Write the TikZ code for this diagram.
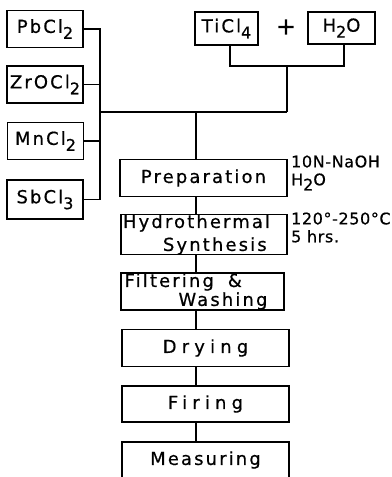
\documentclass[tikz,border=0pt]{standalone}
\usepackage{fontspec}
\setmainfont[FakeBold=0.6]{DejaVu Sans}
\newfontfamily\boxfont[LetterSpace=12,FakeBold=0.6]{DejaVu Sans}
\newfontfamily\widefont[LetterSpace=29,FakeBold=0.6]{DejaVu Sans}
\newfontfamily\notefont[LetterSpace=4,FakeBold=0.6]{DejaVu Sans}
\usetikzlibrary{positioning,calc}
\newcommand\lowidx[1]{\raisebox{-.6ex}{\fontsize{16}{16}\selectfont#1}}
\tikzset{
  flowline/.style={line width=1.7bp},
  salt/.style={draw,line width=1.7bp,font=\boxfont\fontsize{18}{21}\selectfont,inner sep=0pt,minimum width=76bp,minimum height=37bp},
  stepbox/.style={draw,line width=1.7bp,font=\boxfont\fontsize{18}{21}\selectfont,inner sep=0pt,minimum width=167bp,minimum height=37bp},
  widebox/.style={stepbox,font=\widefont\fontsize{18}{21}\selectfont},
  twoline/.style={stepbox,text width=162bp,align=left},
  note/.style={anchor=west,align=left,font=\notefont\fontsize{16}{18}\selectfont,inner sep=0pt}
}
\begin{document}
\begin{tikzpicture}[x=1bp,y=-1bp]
  \clip (0,0) rectangle (391,477);
  % salts on the left
  \node[salt] (pbcl) at (45,29) {PbCl\lowidx{2}};
  \node[salt] (zrocl) at (45,84.5) {ZrOCl\lowidx{2}};
  \node[salt] (mncl) at (45.5,141) {MnCl\lowidx{2}};
  \node[salt,minimum height=39bp] (sbcl) at (45,199.5) {SbCl\lowidx{3}};
  % titanium source
  \node[salt,minimum width=63bp,minimum height=33bp] (ticl) at (226.5,28.5) {TiCl\lowidx{4}};
  \node[font=\fontsize{24}{24}\selectfont,inner sep=0pt] (plus) at (286,27) {+};
  \node[salt,minimum width=67bp,minimum height=32bp] (water) at (341.5,28) {H\lowidx{2}O};
  % process steps
  \node[stepbox] (prep) at (203.5,178) {Preparation};
  \node[twoline,minimum width=166bp,font=\boxfont\fontsize{18}{23}\selectfont] (hydro) at (204,234.5) {Hydrothermal\\\hspace*{40bp}Synthesis};
  \node[twoline,minimum width=163bp,font=\boxfont\fontsize{18}{19}\selectfont] (filter) at (202.5,291.5) {\hspace*{3bp}Filtering\hspace{14bp}\&\\\hspace*{57bp}Washing};
  \node[widebox] (dry) at (205.5,348) {Drying};
  \node[widebox,minimum height=36bp] (fire) at (205.5,404) {Firing};
  \node[stepbox,minimum height=36bp] (measure) at (205.5,460) {Measuring};
  % conditions
  \node[note] (naoh) at (291,173) {10N-NaOH\\H\lowidx{2}O};
  \node[note] (cond) at (291,227.5) {120°-250°C\\5 hrs.};
  % connectors
  \coordinate (bus) at (100,112);
  \coordinate (spine) at (196,112);
  \coordinate (mix) at (287,66);
  \foreach \s in {pbcl,zrocl,mncl,sbcl}{\draw[flowline] (\s.east) -| (bus);}
  \draw[flowline] (bus) -- (mix |- bus);
  \draw[flowline] ([xshift=3.5bp]ticl.south) |- (mix) -| ([xshift=2.5bp]water.south);
  \draw[flowline] (mix) -- (mix |- bus);
  \draw[flowline] (spine) -- (spine |- prep.north);
  \foreach \a/\b in {prep/hydro,hydro/filter,filter/dry,dry/fire,fire/measure}{\draw[flowline] (\a.south -| spine) -- (\b.north -| spine);}
\end{tikzpicture}
\end{document}
